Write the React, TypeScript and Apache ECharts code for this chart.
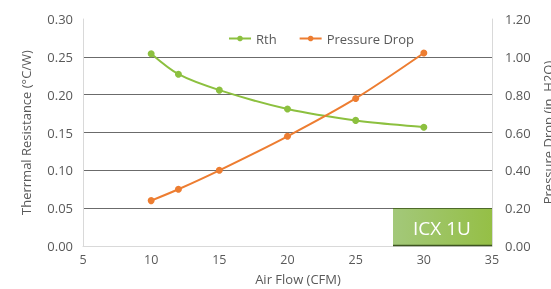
import React, { useEffect, useRef } from "react";
import * as echarts from "echarts";

const airFlow = [10, 12, 15, 20, 25, 30];
const rth = [0.254, 0.227, 0.206, 0.181, 0.166, 0.157];
const pressureDrop = [0.24, 0.3, 0.4, 0.58, 0.78, 1.02];
const xTicks = { min: 5, max: 35, interval: 5 };
const leftTicks = { min: 0, max: 0.3, interval: 0.05 };
const rightTicks = { min: 0, max: 1.2, interval: 0.2 };

const FONT = "'Open Sans', 'Noto Sans', sans-serif";
const TXT = "#595959";
const GREEN = "#8cc03f";
const ORANGE = "#ed7d31";

export default function App() {
  const ref = useRef<HTMLDivElement>(null);
  useEffect(() => {
    if (!ref.current) return;
    const chart = echarts.init(ref.current, undefined, { renderer: "svg" });
    chart.setOption({
      animation: false,
      textStyle: { fontFamily: FONT },
      grid: { left: 83, right: 59, top: 19, bottom: 43, containLabel: false, outerBoundsMode: "none" },
      legend: {
        left: 223,
        top: 27,
        itemWidth: 22,
        itemHeight: 7,
        itemGap: 22,
        textStyle: { color: TXT, fontSize: 13, fontFamily: FONT },
        data: ["Rth", "Pressure Drop"],
      },
      xAxis: {
        type: "value",
        ...xTicks,
        name: "Air Flow (CFM)",
        nameLocation: "middle",
        nameGap: 26,
        nameTextStyle: { color: TXT, fontSize: 13, fontFamily: FONT, padding: [0, 0, 0, 21] },
        axisLine: { show: true, lineStyle: { color: "#d9d9d9", width: 1 } },
        axisTick: { show: false },
        axisLabel: { color: TXT, fontSize: 12.5, margin: 7, fontFamily: FONT },
        splitLine: { show: false },
      },
      yAxis: [
        {
          type: "value",
          ...leftTicks,
          position: "left",
          name: "Therrmal Resistance (°C/W)",
          nameLocation: "middle",
          nameGap: 51,
          nameTextStyle: { color: TXT, fontSize: 13, fontFamily: FONT },
          axisLine: { show: true, lineStyle: { color: "#d9d9d9", width: 1 } },
          axisTick: { show: false },
          axisLabel: {
            color: TXT,
            fontSize: 13,
            margin: 10,
            fontFamily: FONT,
            formatter: (v: number) => v.toFixed(2),
          },
          splitLine: {
            show: true,
            showMinLine: false,
            showMaxLine: false,
            lineStyle: { color: "#6b6b6b", width: 1 },
          },
        },
        {
          type: "value",
          ...rightTicks,
          position: "right",
          name: "Pressure Drop (in. H2O)",
          nameLocation: "middle",
          nameGap: 42,
          nameRotate: 90,
          nameTextStyle: { color: TXT, fontSize: 13, fontFamily: FONT },
          axisLine: { show: true, lineStyle: { color: "#d9d9d9", width: 1 } },
          axisTick: { show: false },
          axisLabel: {
            color: TXT,
            fontSize: 13,
            margin: 13,
            fontFamily: FONT,
            formatter: (v: number) => v.toFixed(2),
          },
          splitLine: { show: false },
        },
      ],
      series: [
        {
          name: "Rth",
          type: "line",
          yAxisIndex: 0,
          data: airFlow.map((x, i) => [x, rth[i]]),
          smooth: 0.3,
          symbol: "circle",
          symbolSize: 7,
          lineStyle: { color: GREEN, width: 2 },
          itemStyle: { color: GREEN },
        },
        {
          name: "Pressure Drop",
          type: "line",
          yAxisIndex: 1,
          data: airFlow.map((x, i) => [x, pressureDrop[i]]),
          smooth: 0.3,
          symbol: "circle",
          symbolSize: 7,
          lineStyle: { color: ORANGE, width: 2 },
          itemStyle: { color: ORANGE },
        },
      ],
      graphic: [
        {
          type: "rect",
          shape: { x: 393, y: 208, width: 99, height: 38 },
          style: {
            fill: new echarts.graphic.LinearGradient(0, 0, 1, 0, [
              { offset: 0, color: "#a3c87a" },
              { offset: 1, color: "#95bf46" },
            ]),
          },
          z: 10,
        },
        {
          type: "line",
          shape: { x1: 393, y1: 208.5, x2: 492, y2: 208.5 },
          style: { stroke: "#4e6a2a", lineWidth: 1 },
          z: 11,
        },
        {
          type: "line",
          shape: { x1: 393, y1: 245.5, x2: 492, y2: 245.5 },
          style: { stroke: "#3d5420", lineWidth: 1.5 },
          z: 11,
        },
        {
          type: "text",
          x: 442,
          y: 228,
          style: {
            text: "ICX 1U",
            fill: "#ffffff",
            fontSize: 19,
            fontFamily: FONT,
            align: "center",
            verticalAlign: "middle",
          },
          z: 12,
        },
      ],
    });
    return () => chart.dispose();
  }, []);
  return (
    <div
      ref={ref}
      style={{ position: "fixed", left: 0, top: 0, width: 551, height: 289 }}
    />
  );
}
